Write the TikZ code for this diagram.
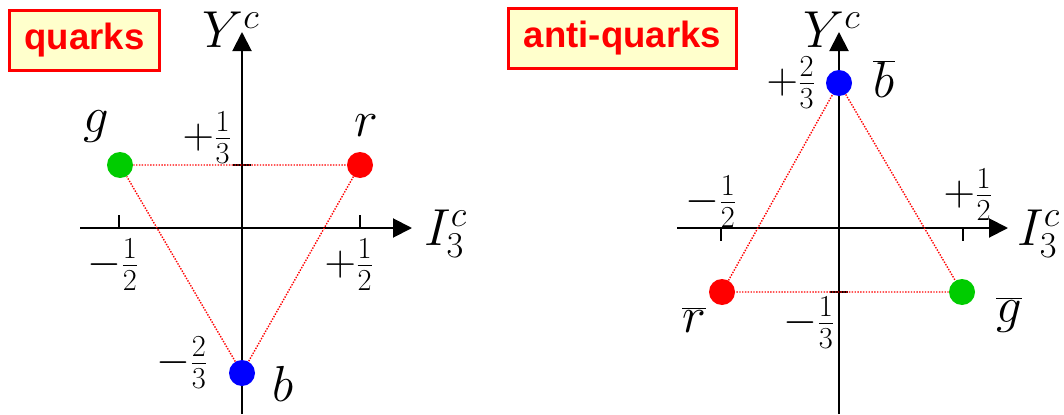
\RequirePackage{fix-cm}
\documentclass[tikz,border=0pt]{standalone}
\usepackage{fontspec}
\setmainfont{Liberation Serif}
\newfontfamily\tagfont{Liberation Sans}
\usetikzlibrary{arrows.meta}

\definecolor{qred}{RGB}{255,0,0}
\definecolor{qgreen}{RGB}{0,204,0}
\definecolor{qblue}{RGB}{0,0,255}
\definecolor{tagfill}{RGB}{255,255,204}

\begin{document}
\begin{tikzpicture}[>={Triangle[length=0.475cm,width=0.475cm]},
    axisline/.style={line width=1.4pt, ->},
    tickmark/.style={line width=1.4pt},
    charge/.style={circle, inner sep=0pt, minimum size=0.65cm, fill=#1},
    tri/.style={qred, line width=1pt, densely dotted},
    colr/.style={font=\fontsize{36}{40}\selectfont, inner sep=0pt},
    fraclbl/.style={font=\fontsize{31}{34}\selectfont, inner sep=0pt},
    axlbl/.style={font=\fontsize{37}{40}\selectfont, inner sep=0pt},
    boxtag/.style={draw=qred, line width=2.1pt, fill=tagfill, text=qred,
        font=\tagfont\bfseries\fontsize{26}{30}\selectfont,
        minimum height=1.5cm, inner sep=0pt}]
    \useasboundingbox (0,0) rectangle (26.6,10.35);

    % Titles
    \node[boxtag, minimum width=3.75cm] (qtag) at (2.1125,9.3375) {quarks};
    \node[boxtag, minimum width=5.7cm] (aqtag) at (15.5625,9.3875) {anti-quarks};

    % Quarks
    \begin{scope}[shift={(6.05,4.65)}]
        % Axes
        \draw[axisline] (-4.05,0) -- (4.25,0);
        \draw[axisline] (0,-4.65) -- (0,4.9);
        \draw[tickmark] (-3.075,0) -- (-3.075,0.325);
        \draw[tickmark] (2.95,0) -- (2.95,0.325);
        \draw[tickmark] (-0.22,1.575) -- (0.22,1.575);
        \node[axlbl, anchor=base] (qy) at (-0.275,4.525) {$Y^{c}$};
        \node[axlbl, anchor=base west] (qi) at (4.55,-0.425) {$I^{c}_3$};

        % Values on the axes
        \node[fraclbl] (qy1) at (-0.875,2.25) {$+\frac{1}{3}$};
        \node[fraclbl] (qy2) at (-1.5,-3.375) {$-\frac{2}{3}$};
        \node[fraclbl] (qi1) at (-3.225,-0.925) {$-\frac{1}{2}$};
        \node[fraclbl] (qi2) at (2.675,-0.925) {$+\frac{1}{2}$};

        % Colour charges
        \node[charge=qgreen] (g) at (-3.05,1.575) {};
        \node[charge=qred] (r) at (2.95,1.575) {};
        \node[charge=qblue] (b) at (0,-3.625) {};
        \draw[tri] (g) -- (r) -- (b) -- (g);
        \node[colr] (glbl) at (-3.65,2.525) {$g$};
        \node[colr] (rlbl) at (3.1,2.55) {$r$};
        \node[colr] (blbl) at (1.025,-3.9) {$b$};
    \end{scope}

    % Anti-quarks
    \begin{scope}[shift={(20.975,4.65)}]
        % Axes
        \draw[axisline] (-4.05,0) -- (4.225,0);
        \draw[axisline] (0,-4.65) -- (0,4.9);
        \draw[tickmark] (-2.95,0) -- (-2.95,-0.325);
        \draw[tickmark] (3.1,0) -- (3.1,-0.325);
        \draw[tickmark] (-0.22,-1.6) -- (0.22,-1.6);
        \node[axlbl, anchor=base] (ay) at (-0.175,4.525) {$Y^{c}$};
        \node[axlbl, anchor=base west] (ai) at (4.45,-0.425) {$I^{c}_3$};

        % Values on the axes
        \node[fraclbl] (ay1) at (-1.2,3.625) {$+\frac{2}{3}$};
        \node[fraclbl] (ay2) at (-0.75,-2.375) {$-\frac{1}{3}$};
        \node[fraclbl] (ai1) at (-3.2,0.65) {$-\frac{1}{2}$};
        \node[fraclbl] (ai2) at (3.225,0.825) {$+\frac{1}{2}$};

        % Colour charges
        \node[charge=qblue] (bbar) at (0,3.625) {};
        \node[charge=qred] (rbar) at (-2.925,-1.6) {};
        \node[charge=qgreen] (gbar) at (3.075,-1.6) {};
        \draw[tri] (bbar) -- (gbar) -- (rbar) -- (bbar);
        \node[colr] (bbarlbl) at (1.125,3.725) {$\overline{b}$};
        \node[colr] (rbarlbl) at (-3.625,-2.3) {$\overline{r}$};
        \node[colr] (gbarlbl) at (4.25,-2.175) {$\overline{g}$};
    \end{scope}
\end{tikzpicture}
\end{document}
